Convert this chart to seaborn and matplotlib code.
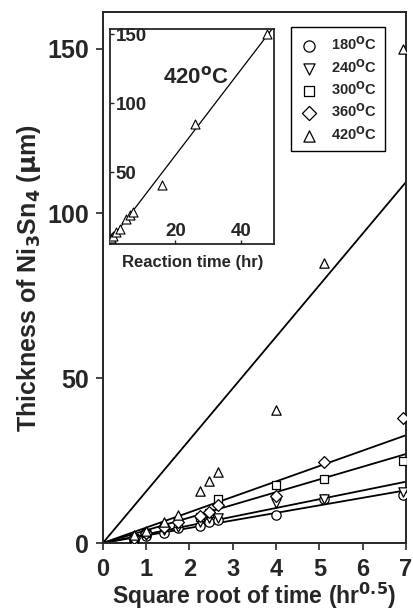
import numpy as np
import pandas as pd
import matplotlib
matplotlib.use('Agg')
import matplotlib.pyplot as plt
import seaborn as sns

sns.set_style('ticks')
plt.rcParams['font.family'] = ['Liberation Sans', 'DejaVu Sans']
plt.rcParams['font.weight'] = 'bold'
plt.rcParams['mathtext.default'] = 'regular'

# data
reaction_time = [0.5, 1, 2, 3, 5, 6, 7, 16, 26, 48]
sqrt_time = [0.71, 1.0, 1.41, 1.73, 2.24, 2.45, 2.65, 4.0, 5.1, 6.93]
thick_180 = [0.8, 2.0, 3.0, 4.5, 5.3, 6.5, 7.0, 8.5, 13.5, 14.5]
thick_240 = [1.0, 2.5, 4.0, 5.0, 6.5, 7.5, 7.5, 12.2, 13.5, 15.5]
thick_300 = [1.5, 3.0, 5.0, 6.0, 8.0, 9.0, 13.3, 17.6, 19.4, 25.0]
thick_360 = [1.5, 3.0, 5.0, 6.5, 8.2, 9.5, 11.5, 14.2, 24.5, 37.8]
thick_420 = [2.5, 3.5, 6.5, 8.5, 15.8, 18.8, 21.4, 40.3, 85.0, 150.0]
temps = ['180', '240', '300', '360', '420']
fit_at_7 = [16.0, 18.6, 27.0, 32.7, 109.5]
inset_fit_t = [0, 49.5]
inset_fit_y = [0, 154]

markers = {'180': 'o', '240': 'v', '300': 's', '360': 'D', '420': '^'}
sizes = {'180': 45, '240': 45, '300': 36, '360': 36, '420': 45}

series = [thick_180, thick_240, thick_300, thick_360, thick_420]
df = pd.concat([pd.DataFrame({'x': sqrt_time, 'y': s, 'temp': t})
                for t, s in zip(temps, series)], ignore_index=True)
fits = pd.concat([pd.DataFrame({'x': [0, 7], 'y': [0, f], 'temp': t})
                  for t, f in zip(temps, fit_at_7)], ignore_index=True)

fig = plt.figure(figsize=(4.13, 6.14), dpi=100)
ax = fig.add_axes([0.249, 0.1156, 0.734, 0.8644])

sns.lineplot(data=fits, x='x', y='y', units='temp', estimator=None,
             color='black', lw=1.3, ax=ax, legend=False)
for t in temps:
    sub = df[df['temp'] == t]
    sns.scatterplot(data=sub, x='x', y='y', marker=markers[t], s=sizes[t],
                    facecolor='white', edgecolor='black', linewidth=0.9,
                    ax=ax, label=t + '$^{\\mathbf{O}}$C', zorder=3)

ax.set_xlim(0, 7)
ax.set_ylim(0, 161)
ax.set_xticks(range(0, 8))
ax.set_yticks([0, 50, 100, 150])
ax.tick_params(direction='out', length=5, width=1.2, labelsize=18, pad=5)
ax.tick_params(axis='x', labelsize=17, pad=6)
for lab in ax.get_xticklabels() + ax.get_yticklabels():
    lab.set_fontweight('bold')
for sp in ax.spines.values():
    sp.set_linewidth(1.4)
ax.set_xlabel('Square root of time (hr$^{\\mathbf{0.5}}$)', fontsize=16.5,
              fontweight='bold', labelpad=0)
ax.set_ylabel('Thickness of Ni$_\\mathbf{3}$Sn$_\\mathbf{4}$ ($\\mathbf{\\mu}$m)',
              fontsize=18, fontweight='bold', labelpad=3)

leg = ax.legend(loc='upper right', bbox_to_anchor=(0.931, 0.972), frameon=True,
                fancybox=False, edgecolor='black', prop={'weight': 'bold', 'size': 10.5},
                labelspacing=0.3, handletextpad=0.9, borderpad=0.55,
                handlelength=1.3, markerscale=1.2, borderaxespad=0)
leg.get_frame().set_linewidth(1.0)
leg.get_frame().set_alpha(1)

# inset
axi = fig.add_axes([0.266, 0.603, 0.397, 0.35])
sns.lineplot(x=inset_fit_t, y=inset_fit_y, color='black', lw=0.9, ax=axi)
sns.scatterplot(x=reaction_time, y=thick_420, marker='^', s=42,
                facecolor='white', edgecolor='black', linewidth=0.8, ax=axi, zorder=3)
axi.set_xlim(0, 50)
axi.set_ylim(-2, 154)
axi.set_xticks([20, 40])
axi.set_yticks([50, 100, 150])
axi.tick_params(axis='y', direction='in', length=3, width=1, labelsize=13.5, pad=-4)
axi.tick_params(axis='x', direction='in', length=3, width=1, labelsize=13.5, pad=-3)
for lab in axi.get_yticklabels():
    lab.set_horizontalalignment('left')
    lab.set_fontweight('bold')
for lab in axi.get_xticklabels():
    lab.set_verticalalignment('bottom')
    lab.set_fontweight('bold')
for sp in axi.spines.values():
    sp.set_linewidth(1.3)
axi.text(16.2, 119, '420$^{\\mathbf{o}}$C', fontsize=16, fontweight='bold',
         ha='left', va='center')
axi.set_xlabel('')
axi.set_ylabel('')
fig.text(193 / 413, 1 - 262 / 614, 'Reaction time (hr)', ha='center', va='center',
         fontsize=12, fontweight='bold')

fig.savefig('out.png', dpi=100)
